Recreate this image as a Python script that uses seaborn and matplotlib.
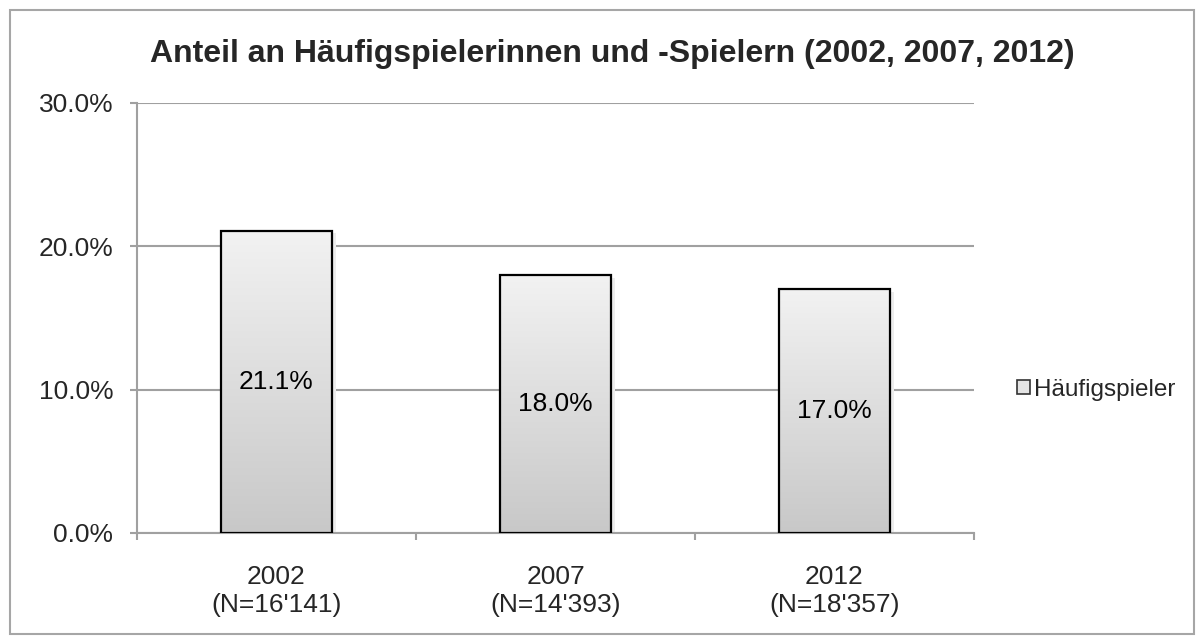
import numpy as np
import pandas as pd
import matplotlib
matplotlib.use("Agg")
import matplotlib.pyplot as plt
import seaborn as sns
from matplotlib.patches import Rectangle, Patch

sns.set_theme(style="white")
plt.rcParams['font.family'] = ['Liberation Sans', 'DejaVu Sans']

# Data
years = ["2002", "2007", "2012"]
n_labels = ["16'141", "14'393", "18'357"]
share = [21.1, 18.0, 17.0]
series_name = "Häufigspieler"
title = "Anteil an Häufigspielerinnen und -Spielern (2002, 2007, 2012)"

df = pd.DataFrame({
    "label": [f"{y}\n(N={n})" for y, n in zip(years, n_labels)],
    "share": share,
})

W, H = 1204, 644
fig = plt.figure(figsize=(W / 100, H / 100), dpi=100)
fig.patch.set_facecolor("white")

# outer frame
fig.add_artist(Rectangle((10 / W, 10 / H), (W - 20) / W, (H - 20) / H,
                         transform=fig.transFigure, fill=False,
                         edgecolor="#a6a6a6", linewidth=1.5))

ax = fig.add_axes([137 / W, (H - 533) / H, (974 - 137) / W, (533 - 103) / H])

sns.barplot(data=df, x="label", y="share", ax=ax, width=0.4,
            color="#dddddd", edgecolor="black", linewidth=1.6, saturation=1)

# vertical gradient inside each bar (light top, darker bottom)
grad = np.linspace(0, 1, 256).reshape(-1, 1)
cmap = matplotlib.colors.LinearSegmentedColormap.from_list("g", ["#f2f2f2", "#c8c8c8"])
for p in ax.patches:
    x0, y0 = p.get_x(), p.get_y()
    w, h = p.get_width(), p.get_height()
    # soft shadow on the right
    ax.add_patch(Rectangle((x0 + w, y0), 0.012, h - 0.2, facecolor="#ededed",
                           edgecolor="none", zorder=1.5))
    im = ax.imshow(grad, extent=(x0, x0 + w, y0, y0 + h), aspect="auto",
                   cmap=cmap, zorder=2, origin="upper")
    im.set_clip_path(p)
    p.set_facecolor("none")
    p.set_zorder(3)

for i, v in enumerate(share):
    ax.text(i, v / 2, f"{v:.1f}%", ha="center", va="center", fontsize=19,
            color="black", zorder=4)

ax.set_xlim(-0.5, 2.5)
ax.set_ylim(0, 30)
ax.set_yticks([0, 10, 20, 30])
ax.set_yticklabels([f"{t:.1f}%" for t in [0, 10, 20, 30]], fontsize=19)
ax.tick_params(axis="y", which="major", length=5, width=1.5, color="#a0a0a0",
               direction="out", left=True, pad=12)
ax.set_xticks([0, 1, 2])
ax.set_xticklabels(df["label"], fontsize=19, linespacing=1.2)
ax.tick_params(axis="x", which="major", length=0, pad=23)
ax.set_xticks([-0.5, 0.5, 1.5, 2.5], minor=True)
ax.tick_params(axis="x", which="minor", length=5, width=1.5, color="#a0a0a0",
               direction="out", bottom=True)

ax.yaxis.grid(True, color="#a0a0a0", linewidth=1.5)
ax.set_axisbelow(True)
for s in ["top", "right"]:
    ax.spines[s].set_visible(False)
for s in ["left", "bottom"]:
    ax.spines[s].set_color("#a0a0a0")
    ax.spines[s].set_linewidth(1.5)
ax.set_xlabel("")
ax.set_ylabel("")
ax.set_facecolor("white")

fig.text(612 / W, 1 - 54 / H, title, ha="center", va="center",
         fontsize=23, fontweight="bold")

handle = Patch(facecolor="#e4e4e4", edgecolor="#333333", linewidth=1.2)
fig.legend([handle], [series_name], loc="center right",
           bbox_to_anchor=(1188 / W, 1 - 390 / H), frameon=False,
           fontsize=17.5, handlelength=0.5, handleheight=0.5,
           handletextpad=0.2, borderpad=0)

fig.savefig("out.png", dpi=100)
